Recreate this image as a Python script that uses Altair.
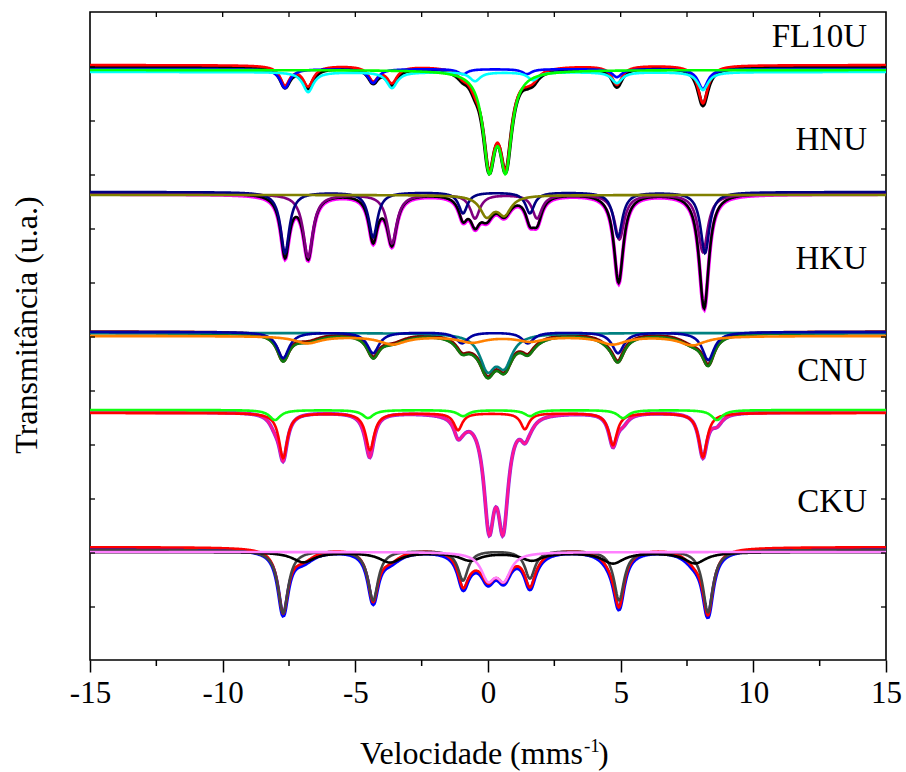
import altair as alt
import numpy as np
import pandas as pd

# ---------------- axis ticks ----------------
X_MAJOR = [-15, -10, -5, 0, 5, 10, 15]
X_MINOR = [-12.5, -7.5, -2.5, 2.5, 7.5, 12.5]
X_TOP = [-12.5, -10, -7.5, -5, -2.5, 0, 2.5, 5, 7.5, 10, 12.5]
Y_TICKS = [53, 107, 161, 215, 269, 323, 377, 431, 485, 539, 593]

# ---------------- line parameters ----------------
# (velocity of each absorption line in mm/s, depth in u.a., half width)
# FL10U
FL10U_DATA_BASE = 593
FL10U_FIT_BASE = 595
FL10U_S1_BASE = 591
FL10U_S1_POS = [-7.65, -4.33, -0.95, 1.47, 4.86, 8.10]
FL10U_S1_DEPTH = [19, 14, 5, 5, 8, 20]
FL10U_S1_HW = 0.22
FL10U_S2_BASE = 588
FL10U_S2_POS = [-6.78, -3.62, -0.49, 1.70, 4.86, 8.10]
FL10U_S2_DEPTH = [20, 16, 9, 8, 11, 18]
FL10U_S2_HW = 0.24
FL10U_D_BASE = 590
FL10U_D_POS = [0.04, 0.67]
FL10U_D_DEPTH = [90, 90]
FL10U_D_HW = 0.27

# HNU
HNU_DATA_BASE = 466
HNU_FIT_BASE = 467
HNU_S1_BASE = 468
HNU_S1_POS = [-7.65, -4.33, -0.94, 1.58, 4.90, 8.18]
HNU_S1_DEPTH = [61, 45, 21, 21, 45, 61]
HNU_S1_HW = 0.20
HNU_S2_BASE = 466
HNU_S2_POS = [-6.78, -3.62, -0.49, 1.85, 4.95, 8.10]
HNU_S2_DEPTH = [63, 49, 24, 24, 45, 58]
HNU_S2_HW = 0.22
HNU_D_BASE = 465
HNU_D_POS = [-0.05, 0.62]
HNU_D_DEPTH = [20, 18]
HNU_D_HW = 0.30

# HKU
HKU_DATA_BASE = 328
HKU_FIT_BASE = 327
HKU_S1_BASE = 328
HKU_S1_POS = [-7.72, -4.33, -0.98, 1.50, 4.90, 8.30]
HKU_S1_DEPTH = [26, 21, 11, 11, 21, 28]
HKU_S1_HW = 0.27
HKU_S2_BASE = 324
HKU_S2_POS = [-6.80, -3.60, -0.60, 1.60, 4.70, 7.70]
HKU_S2_DEPTH = [7, 8, 6, 5, 8, 9]
HKU_S2_HW = 0.60
HKU_D_BASE = 327
HKU_D_POS = [-0.02, 0.62]
HKU_D_DEPTH = [33, 29]
HKU_D_HW = 0.35

# CNU
CNU_DATA_BASE = 248
CNU_FIT_BASE = 248
CNU_S1_BASE = 247
CNU_S1_POS = [-7.72, -4.45, -1.13, 1.39, 4.71, 8.10]
CNU_S1_DEPTH = [45, 37, 17, 16, 32, 44]
CNU_S1_HW = 0.19
CNU_S2_BASE = 250
CNU_S2_POS = [-8.03, -4.52, -0.94, 1.58, 5.09, 8.63]
CNU_S2_DEPTH = [10, 8, 6, 6, 8, 10]
CNU_S2_HW = 0.25
CNU_D_POS = [0.04, 0.57]
CNU_D_DEPTH = [104, 104]
CNU_D_HW = 0.24

# CKU
CKU_DATA_BASE = 111
CKU_FIT_BASE = 113
CKU_S1_BASE = 110
CKU_S1_POS = [-7.72, -4.33, -0.94, 1.58, 4.94, 8.29]
CKU_S1_DEPTH = [63, 50, 30, 28, 50, 62]
CKU_S1_HW = 0.23
CKU_S2_BASE = 108
CKU_S2_POS = [-6.96, -3.69, -0.68, 1.66, 4.71, 7.80]
CKU_S2_DEPTH = [10, 10, 8, 8, 11, 11]
CKU_S2_HW = 0.50
CKU_D_BASE = 108
CKU_D_POS = [0.00, 0.60]
CKU_D_DEPTH = [25, 25]
CKU_D_HW = 0.31

SAMPLE_LABELS = ["FL10U", "HNU", "HKU", "CNU", "CKU"]

# ---------------- build curves (Lorentzian line profiles) ----------------
v = np.round(np.arange(-15.0, 15.0001, 0.025), 3)


def dip(pos, depth, hw):
    out = np.zeros_like(v)
    for p, d in zip(pos, depth):
        out += d / (1.0 + ((v - p) / hw) ** 2)
    return out


curves = []  # (key, values, color, width) in drawing order


def spectrum(tag, data_base, fit_base, comps, data_col, fit_col, hidden=None):
    total = np.zeros_like(v)
    for c in comps:
        total += dip(c[1], c[2], c[3])
    if hidden is not None:
        total += dip(*hidden)
    curves.append((tag + "_data", data_base - total, data_col, 3.8))
    curves.append((tag + "_fit", fit_base - total, fit_col, 2.6))
    for c in comps:
        curves.append((tag + "_" + c[5], c[0] - dip(c[1], c[2], c[3]), c[4], 2.6))


spectrum("fl10u", FL10U_DATA_BASE, FL10U_FIT_BASE, [
    (FL10U_S1_BASE, FL10U_S1_POS, FL10U_S1_DEPTH, FL10U_S1_HW, "#0000ff", "s1"),
    (FL10U_S2_BASE, FL10U_S2_POS, FL10U_S2_DEPTH, FL10U_S2_HW, "#00ffff", "s2"),
    (FL10U_D_BASE, FL10U_D_POS, FL10U_D_DEPTH, FL10U_D_HW, "#00ff00", "d"),
], "#000000", "#ff0000")

spectrum("hnu", HNU_DATA_BASE, HNU_FIT_BASE, [
    (HNU_S2_BASE, HNU_S2_POS, HNU_S2_DEPTH, HNU_S2_HW, "#800080", "s2"),
    (HNU_S1_BASE, HNU_S1_POS, HNU_S1_DEPTH, HNU_S1_HW, "#000080", "s1"),
    (HNU_D_BASE, HNU_D_POS, HNU_D_DEPTH, HNU_D_HW, "#808000", "d"),
], "#ff00ff", "#000000")

spectrum("hku", HKU_DATA_BASE, HKU_FIT_BASE, [
    (HKU_D_BASE, HKU_D_POS, HKU_D_DEPTH, HKU_D_HW, "#008080", "d"),
    (HKU_S1_BASE, HKU_S1_POS, HKU_S1_DEPTH, HKU_S1_HW, "#0000a0", "s1"),
    (HKU_S2_BASE, HKU_S2_POS, HKU_S2_DEPTH, HKU_S2_HW, "#ff8000", "s2"),
], "#800000", "#0f7a0f")

spectrum("cnu", CNU_DATA_BASE, CNU_FIT_BASE, [
    (CNU_S1_BASE, CNU_S1_POS, CNU_S1_DEPTH, CNU_S1_HW, "#ff0000", "s1"),
    (CNU_S2_BASE, CNU_S2_POS, CNU_S2_DEPTH, CNU_S2_HW, "#10ff10", "s2"),
], "#8a2be2", "#ff1493", hidden=(CNU_D_POS, CNU_D_DEPTH, CNU_D_HW))

spectrum("cku", CKU_DATA_BASE, CKU_FIT_BASE, [
    (CKU_S1_BASE, CKU_S1_POS, CKU_S1_DEPTH, CKU_S1_HW, "#444444", "s1"),
    (CKU_S2_BASE, CKU_S2_POS, CKU_S2_DEPTH, CKU_S2_HW, "#000000", "s2"),
    (CKU_D_BASE, CKU_D_POS, CKU_D_DEPTH, CKU_D_HW, "#ff80ff", "d"),
], "#0000ff", "#ff0000")

frames = []
for key, vals, col, w in curves:
    frames.append(pd.DataFrame({"v": v, "t": np.round(vals, 2), "key": key}))
df = pd.concat(frames, ignore_index=True)

# ---------------- chart ----------------
FONT = "'Liberation Serif', 'Times New Roman', serif"
xscale = alt.Scale(domain=[-15, 15], nice=False, zero=False)
yscale = alt.Scale(domain=[0, 648], nice=False, zero=False)
xaxis = alt.Axis(values=X_MAJOR, title=None, tickSize=12, tickWidth=1.5,
                 tickColor="black", domain=False, grid=False,
                 labelFont=FONT, labelFontSize=31, labelColor="black",
                 labelPadding=6, labelFlush=False, labelOverlap=False,
                 labelExpr="'' + datum.value")
X = alt.X("v:Q", scale=xscale, axis=xaxis)
Y = alt.Y("t:Q", scale=yscale, axis=None)

layers = []
for key, vals, col, w in curves:
    layers.append(
        alt.Chart(df).transform_filter(alt.datum.key == key)
        .mark_line(color=col, strokeWidth=w, clip=True, interpolate="linear")
        .encode(x=X, y=Y)
    )

top_ticks = alt.Chart(pd.DataFrame({"v": X_TOP})).mark_rule(
    color="black", strokeWidth=1.3).encode(x=X, y=alt.value(0), y2=alt.value(5))
bottom_minor = alt.Chart(pd.DataFrame({"v": X_MINOR})).mark_rule(
    color="black", strokeWidth=1.5).encode(x=X, y=alt.value(648), y2=alt.value(654))
left_ticks = alt.Chart(pd.DataFrame({"t": Y_TICKS})).mark_rule(
    color="black", strokeWidth=1.3).encode(y=Y, x=alt.value(0), x2=alt.value(5))
right_ticks = alt.Chart(pd.DataFrame({"t": Y_TICKS})).mark_rule(
    color="black", strokeWidth=1.3).encode(y=Y, x=alt.value(796), x2=alt.value(791))
layers += [top_ticks, bottom_minor, left_ticks, right_ticks]

label_y = [25, 128, 247, 359, 490]
for lab, ly in zip(SAMPLE_LABELS, label_y):
    layers.append(
        alt.Chart(pd.DataFrame({"s": [lab]})).mark_text(
            font=FONT, fontSize=33, color="black", align="right", baseline="middle")
        .encode(text="s:N", x=alt.value(777), y=alt.value(ly))
    )

layers.append(
    alt.Chart(pd.DataFrame({"s": ["Transmitância (u.a.)"]})).mark_text(
        font=FONT, fontSize=32, color="black", align="center", baseline="middle", angle=270)
    .encode(text="s:N", x=alt.value(-63), y=alt.value(313))
)
layers.append(
    alt.Chart(pd.DataFrame({"s": ["Velocidade (mms"]})).mark_text(
        font=FONT, fontSize=32, color="black", align="right", baseline="alphabetic")
    .encode(text="s:N", x=alt.value(493), y=alt.value(752))
)
layers.append(
    alt.Chart(pd.DataFrame({"s": ["-1"]})).mark_text(
        font=FONT, fontSize=19, color="black", align="left", baseline="alphabetic")
    .encode(text="s:N", x=alt.value(494), y=alt.value(740))
)
layers.append(
    alt.Chart(pd.DataFrame({"s": [")"]})).mark_text(
        font=FONT, fontSize=32, color="black", align="left", baseline="alphabetic")
    .encode(text="s:N", x=alt.value(508), y=alt.value(752))
)

chart = alt.layer(*layers).properties(
    width=796, height=648,
    padding={"left": 90, "top": 12, "right": 20, "bottom": 112},
    autosize=alt.AutoSizeParams(type="none"),
    background="white",
).configure_view(stroke="black", strokeWidth=1.6)

chart.save("out.html", embed_options={"renderer": "svg", "actions": False})
